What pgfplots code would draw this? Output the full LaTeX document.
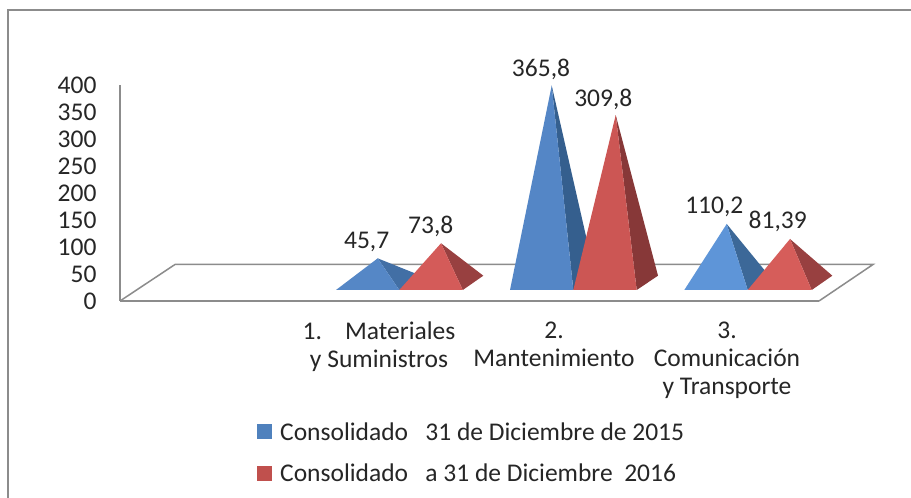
\documentclass[border=0pt]{standalone}
\usepackage{fontspec}
\setmainfont{Carlito}
\usepackage{pgfplots}
\pgfplotsset{compat=1.18}
\definecolor{frameg}{HTML}{8C8C8C}
\definecolor{txt}{HTML}{262626}
\definecolor{blue1}{HTML}{5587C6}
\definecolor{blue1s}{HTML}{426FA5}
\definecolor{red1}{HTML}{D45B59}
\definecolor{red1s}{HTML}{984040}
\definecolor{blue2}{HTML}{5486C6}
\definecolor{blue2s}{HTML}{355F8E}
\definecolor{red2}{HTML}{CC5654}
\definecolor{red2s}{HTML}{873838}
\definecolor{blue3}{HTML}{5E95D8}
\definecolor{blue3s}{HTML}{3C6898}
\definecolor{red3}{HTML}{D65D5A}
\definecolor{red3s}{HTML}{984040}
\definecolor{legblue}{HTML}{4F81BD}
\definecolor{legred}{HTML}{C0504D}
\begin{document}
\begin{tikzpicture}[x=1bp,y=1bp]
\useasboundingbox (0,0) rectangle (911,498);
\fill[white] (0,0) rectangle (911,498);
\begin{axis}[
  at={(120bp,197bp)}, anchor=south west,
  scale only axis, width=699bp, height=216bp,
  xmin=120, xmax=819, ymin=0, ymax=400,
  clip=false,
  axis x line=bottom, axis y line=left,
  axis line style={-, draw=frameg, line width=1.5bp},
  major tick length=0pt,
  /pgf/number format/assume math mode=true,
  ytick={0,50,...,400},
  xtick={379,554,727},
  xticklabels={{1.\ \ \ \ Materiales\\y Suministros},{2.\\Mantenimiento},{3.\\Comunicación\\y Transporte}},
  ticklabel style={font=\fontsize{25.5bp}{28bp}\selectfont, text=txt},
  yticklabel style={xshift=-20bp},
  xticklabel style={align=center, yshift=-17bp},
  legend cell align=left,
  legend style={at={(axis cs:254,-217)}, anchor=north west, draw=none, fill=none,
     font=\fontsize{25.5bp}{28bp}\selectfont, text=txt, row sep=18bp,
     /tikz/every odd column/.append style={column sep=6bp}},
  legend image code/.code={\fill[#1, draw=none] (0bp,-7.5bp) rectangle (15bp,7.5bp);},
]
% frame
\addplot[forget plot, frameg, line width=1.8bp] coordinates {(8,-364.8) (8,539.4) (911,539.4)};
% floor
\addplot[forget plot, frameg, line width=1.5bp] coordinates {(120,0) (175,67.6) (873,67.6) (819,0)};
% group 1
\addplot[forget plot, fill=blue1s, draw=none] coordinates {(377.7,79) (399.3,20.37) (420.8,46.85)};
\addplot[forget plot, fill=blue1, draw=none] coordinates {(336,20.37) (399.3,20.37) (377.7,79)};
\addplot[forget plot, fill=red1s, draw=none] coordinates {(441,106.9) (462.8,20.37) (483.3,46.85)};
\addplot[forget plot, fill=red1, draw=none] coordinates {(399.3,20.37) (462.8,20.37) (441,106.9)};
% group 2
\addplot[forget plot, fill=blue2s, draw=none] coordinates {(551.7,399) (573.3,20.37) (595,46.85)};
\addplot[forget plot, fill=blue2, draw=none] coordinates {(510,20.37) (573.3,20.37) (551.7,399)};
\addplot[forget plot, fill=red2s, draw=none] coordinates {(615.7,344.4) (636.7,20.37) (658,46.85)};
\addplot[forget plot, fill=red2, draw=none] coordinates {(573.3,20.37) (636.7,20.37) (615.7,344.4)};
% group 3
\addplot[forget plot, fill=blue3s, draw=none] coordinates {(726.7,142.6) (747.7,20.37) (769,46.85)};
\addplot[forget plot, fill=blue3, draw=none] coordinates {(684.3,20.37) (747.7,20.37) (726.7,142.6)};
\addplot[forget plot, fill=red3s, draw=none] coordinates {(790,114.8) (811.7,20.37) (832.3,46.85)};
\addplot[forget plot, fill=red3, draw=none] coordinates {(747.7,20.37) (811.7,20.37) (790,114.8)};
% data labels
\addplot[forget plot, draw=none, mark=none, nodes near coords, point meta=explicit symbolic,
  every node near coord/.style={anchor=center, font=\fontsize{25.5bp}{28bp}\selectfont, text=txt, inner sep=0pt}]
  coordinates {(366.7,109.8)[45,7] (430.7,137.6)[73,8] (541,429)[365,8] (603.3,374)[309,8] (714.3,174.6)[110,2] (777.7,146.9)[81,39]};
\addlegendimage{fill=legblue}
\addlegendentry{Consolidado\ \ \ 31 de Diciembre de 2015}
\addlegendimage{fill=legred}
\addlegendentry{Consolidado\ \ \ a 31 de Diciembre\ \ 2016}
\end{axis}
\end{tikzpicture}
\end{document}
